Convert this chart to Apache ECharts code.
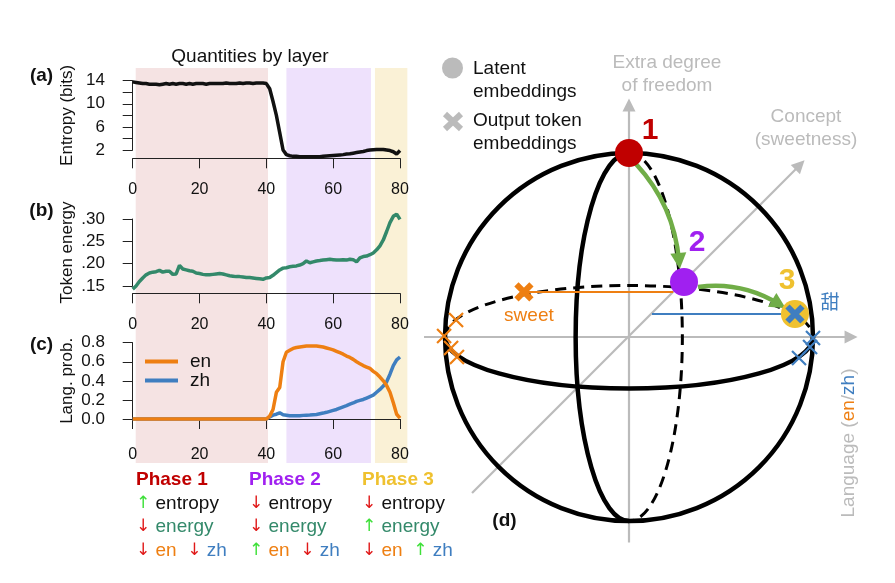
<!DOCTYPE html>
<html><head><meta charset="utf-8">
<script src="https://cdn.jsdelivr.net/npm/echarts@6.0.0/dist/echarts.min.js"></script>
<style>html,body{margin:0;padding:0;background:#fff}#c{width:895px;height:583px}</style>
</head><body><div id="c"></div>
<script>
// ---------------- DATA ----------------
const layerTicks = [0, 20, 40, 60, 80];
const entropyTicks = [2, 6, 10, 14];
const entropy = [
 13.8,13.7,13.6,13.5,13.5,13.4,13.4,13.4,13.3,13.4,
 13.5,13.4,13.5,13.4,13.5,13.5,13.4,13.5,13.4,13.5,
 13.5,13.5,13.4,13.5,13.5,13.5,13.5,13.5,13.6,13.5,
 13.5,13.5,13.6,13.5,13.6,13.6,13.5,13.6,13.6,13.6,
 13.5,12.6,10.4,8.0,5.0,2.0,1.2,1.0,0.9,0.9,
 0.85,0.85,0.85,0.85,0.85,0.85,0.85,0.9,0.95,1.0,
 1.05,1.1,1.15,1.2,1.3,1.35,1.45,1.55,1.65,1.75,
 1.9,2.0,2.05,2.1,2.1,2.1,2.0,1.9,1.7,1.3,
 1.9];
const energy = [
 .143,.150,.160,.168,.175,.179,.181,.182,.185,.181,
 .183,.183,.176,.177,.196,.188,.186,.184,.183,.179,
 .178,.176,.175,.175,.176,.177,.178,.177,.175,.173,
 .172,.171,.171,.170,.169,.169,.168,.167,.166,.165,
 .168,.169,.174,.180,.186,.190,.191,.193,.194,.195,
 .197,.200,.206,.202,.204,.206,.207,.208,.209,.210,
 .209,.208,.208,.209,.208,.210,.209,.204,.213,.216,
 .217,.220,.224,.231,.240,.253,.272,.292,.306,.311,
 .299];
const probEn = [
 0,0,0,0,0,0,0,0,0,0, 0,0,0,0,0,0,0,0,0,0,
 0,0,0,0,0,0,0,0,0,0, 0,0,0,0,0,0,0,0,0,0,
 0,.03,.10,.28,.33,.60,.70,.72,.74,.75,
 .755,.76,.765,.765,.765,.765,.76,.755,.745,.735,
 .725,.71,.695,.68,.66,.645,.625,.60,.58,.56,
 .545,.53,.50,.475,.44,.40,.35,.28,.17,.05,
 .01];
const probZh = [
 0,0,0,0,0,0,0,0,0,0, 0,0,0,0,0,0,0,0,0,0,
 0,0,0,0,0,0,0,0,0,0, 0,0,0,0,0,0,0,0,0,0,
 0,.02,.04,.05,.065,.045,.04,.035,.035,.035,
 .035,.038,.04,.042,.045,.048,.055,.062,.07,.08,
 .09,.10,.115,.128,.14,.155,.168,.185,.195,.205,
 .22,.235,.25,.28,.31,.345,.39,.47,.56,.62,
 .65];
const phaseStart = [0.9, 46, 72.5];
const phaseEnd = [40.5, 71.3, 82.2];
const phaseNames = ['Phase 1', 'Phase 2', 'Phase 3'];
const phaseEntropy = ['up', 'down', 'down'];
const phaseEnergy = ['down', 'down', 'up'];
const phaseEnTrend = ['down', 'up', 'down'];
const phaseZhTrend = ['down', 'down', 'up'];

// sphere diagram (unit sphere coordinates)
const latentX = [0, 0.299, 0.902];
const latentY = [1.0, 0.299, 0.125];
const latentLabels = ['1', '2', '3'];
const tokenBoldX = [-0.571, 0.902];
const tokenBoldY = [0.245, 0.125];
const tokenBoldLabels = ['sweet', '甜'];
const enTokensX = [-0.940, -1.005, -0.967, -0.935];
const enTokensY = [0.092, 0.005, -0.060, -0.109];
const zhTokensX = [1.0, 0.984, 0.924];
const zhTokensY = [-0.005, -0.054, -0.114];
const ellipseRx = [1, 1, 1, 0.29, 0.29];
const ellipseRy = [1, 0.28, 0.28, 1, 1];
const ellipsePart = ['full', 'lower', 'upper', 'left', 'right'];
const ellipseDashed = [false, false, true, false, true];
const axisFrom = [[0, -1.117], [-1.114, 0], [-0.853, -0.848]];
const axisTo = [[0, 1.261], [1.207, 0], [0.929, 0.935]];
const projFrom = [[-0.571, 0.245], [0.125, 0.125]];
const projTo = [[0.24, 0.245], [0.902, 0.125]];
const moveFrom = [[0.038, 0.940], [0.375, 0.272]];
const moveTo = [[0.272, 0.413], [0.815, 0.179]];

// ---------------- STYLE ----------------
const FONT = "'Liberation Sans', Arial, Helvetica, sans-serif";
const C = {
  ink: '#111111', grey: '#BBBBBB', en: '#EE7F12', zh: '#3F7EC0', energy: '#33896A',
  up: '#3FE03A', down: '#E01818', arrow: '#70AD47',
  p1: '#C00000', p2: '#A020F0', p3: '#EFC12F',
  band: ['#F5E3E3', '#EEE1FC', '#FAF1D6']
};
const latentColors = [C.p1, C.p2, C.p3];
const latentLabelOffset = [[21, -22], [13, -39], [-8, -33]];
const boldColors = [C.en, C.zh];
const boldLabelOffset = [[5, 24], [35, -12]];
const XPATH = 'path://M0,0L10,10M10,0L0,10';

const X0 = 132.7, XW = 267.3;
const gridsPx = [
  {left: X0, top: 80.7, width: XW, height: 69.3},
  {left: X0, top: 219, width: XW, height: 67},
  {left: X0, top: 342.7, width: XW, height: 76.3},
  {left: X0, top: 68, width: XW, height: 395},
  {left: 445, top: 153, width: 368, height: 368}
];
const xOffsets = [8.3, 7.3, 4.3];

function visXAxis(i) {
  return {
    gridIndex: i, type: 'value', min: 0, max: 80, interval: 20, offset: xOffsets[i],
    axisLine: {show: true, lineStyle: {color: '#222', width: 1}},
    axisTick: {show: true, length: 10, lineStyle: {color: '#222', width: 1}},
    axisLabel: {show: true, margin: 23, fontSize: 16, color: C.ink, fontFamily: FONT,
      formatter: v => layerTicks.includes(v) ? String(v) : ''},
    splitLine: {show: false}
  };
}
function visYAxis(i, min, max, interval, name, fmt) {
  return {
    gridIndex: i, type: 'value', min, max, interval, offset: 7.7,
    axisLine: {show: true, lineStyle: {color: '#222', width: 1}},
    axisTick: {show: true, length: 10, lineStyle: {color: '#222', width: 1}},
    axisLabel: {show: true, margin: 20, fontSize: 17, color: C.ink, fontFamily: FONT, formatter: fmt},
    splitLine: {show: false},
    name, nameLocation: 'middle', nameGap: 49, nameRotate: 90,
    nameTextStyle: {fontSize: 17, color: C.ink, fontFamily: FONT}
  };
}
const hidden = (i, min, max) => ({gridIndex: i, type: 'value', min, max, show: false, splitLine: {show: false}});

function arcItem(params, api) {
  const i = params.dataIndex;
  const c = api.coord([0, 0]);
  const s = api.size([ellipseRx[i], ellipseRy[i]]);
  const rx = s[0], ry = s[1], x = c[0], y = c[1];
  const style = {fill: 'none', stroke: '#000', lineWidth: ellipseDashed[i] ? 3 : 4.5,
    lineDash: ellipseDashed[i] ? [11, 7] : null};
  if (ellipsePart[i] === 'full') return {type: 'circle', shape: {cx: x, cy: y, r: rx}, style};
  let d;
  if (ellipsePart[i] === 'upper') d = `M${x - rx},${y}A${rx},${ry} 0 0 1 ${x + rx},${y}`;
  if (ellipsePart[i] === 'lower') d = `M${x - rx},${y}A${rx},${ry} 0 0 0 ${x + rx},${y}`;
  if (ellipsePart[i] === 'left') d = `M${x},${y - ry}A${rx},${ry} 0 0 0 ${x},${y + ry}`;
  if (ellipsePart[i] === 'right') d = `M${x},${y - ry}A${rx},${ry} 0 0 1 ${x},${y + ry}`;
  return {type: 'path', shape: {pathData: d}, style};
}

// phase text
const arrowTxt = t => t === 'up' ? '{u|↑}' : '{d|↓}';
const rs = (fill, extra) => Object.assign({fill, fontSize: 19, fontFamily: FONT}, extra || {});
const ARROWFONT = "'DejaVu Sans', sans-serif";
const rich = {
  u: rs(C.up, {fontFamily: ARROWFONT, fontSize: 17}),
  d: rs(C.down, {fontFamily: ARROWFONT, fontSize: 17}),
  k: rs(C.ink), g: rs(C.energy), o: rs(C.en), b: rs(C.zh), l: rs(C.grey)
};
const phaseX = [136, 249, 362];
const rowY = [480, 503.5, 527, 550.5];
const graphics = [];
const txt = (x, y, text, extra) => graphics.push({type: 'text', x, y, z: 100,
  style: Object.assign({text, font: `19px ${FONT}`, fill: C.ink, textAlign: 'left', textVerticalAlign: 'middle'}, extra || {})});
phaseNames.forEach((n, i) => {
  txt(phaseX[i], rowY[0], n, {font: `bold 19px ${FONT}`, fill: latentColors[i]});
  txt(phaseX[i], rowY[1], arrowTxt(phaseEntropy[i]) + ' {k|entropy}', {rich});
  txt(phaseX[i], rowY[2], arrowTxt(phaseEnergy[i]) + ' {g|energy}', {rich});
  txt(phaseX[i], rowY[3], arrowTxt(phaseEnTrend[i]) + ' {o|en}  ' + arrowTxt(phaseZhTrend[i]) + ' {b|zh}', {rich});
});
txt(250, 57, 'Quantities by layer', {textAlign: 'center'});
txt(41.5, 76, '(a)', {textAlign: 'center', font: `bold 19px ${FONT}`});
txt(41.5, 211, '(b)', {textAlign: 'center', font: `bold 19px ${FONT}`});
txt(41.5, 345, '(c)', {textAlign: 'center', font: `bold 19px ${FONT}`});
txt(504.5, 521, '(d)', {textAlign: 'center', font: `bold 19px ${FONT}`});
// sphere legend
graphics.push({type: 'circle', shape: {cx: 452.5, cy: 68, r: 10.5}, style: {fill: C.grey}});
graphics.push({type: 'line', shape: {x1: 445, y1: 114, x2: 461, y2: 129}, style: {stroke: C.grey, lineWidth: 6}});
graphics.push({type: 'line', shape: {x1: 461, y1: 114, x2: 445, y2: 129}, style: {stroke: C.grey, lineWidth: 6}});
txt(473, 69, 'Latent'); txt(473, 92, 'embeddings');
txt(473, 121, 'Output token'); txt(473, 144, 'embeddings');
txt(667, 74.5, 'Extra degree\nof freedom', {textAlign: 'center', fill: C.grey, lineHeight: 23});
txt(806, 128.5, 'Concept\n(sweetness)', {textAlign: 'center', fill: C.grey, lineHeight: 23});
graphics.push({type: 'text', x: 849, y: 443, rotation: Math.PI / 2, z: 100,
  style: {text: '{l|Language (}{o|en}{l|/}{b|zh}{l|)}', textAlign: 'center', textVerticalAlign: 'middle',
    fill: C.grey, rich: {l: rich.l, o: rich.o, b: rich.b}}});

const option = {
  animation: false,
  backgroundColor: '#fff',
  grid: gridsPx.map(g => Object.assign({outerBoundsMode: 'none', containLabel: false}, g)),
  xAxis: [visXAxis(0), visXAxis(1), visXAxis(2), hidden(3, 0, 80), hidden(4, -1, 1)],
  yAxis: [
    visYAxis(0, 2, 14, 2, 'Entropy (bits)', v => entropyTicks.includes(v) ? String(v) : ''),
    visYAxis(1, 0.15, 0.30, 0.05, 'Token energy', v => v.toFixed(2).replace(/^0/, '')),
    visYAxis(2, 0, 0.8, 0.2, 'Lang. prob.', v => v.toFixed(1)),
    hidden(3, 0, 1), hidden(4, -1, 1)
  ],
  legend: {
    data: ['en', 'zh'], orient: 'vertical', left: 140, top: 347, icon: 'rect',
    itemWidth: 33, itemHeight: 4, itemGap: 0, selectedMode: false,
    textStyle: {fontSize: 19, color: C.ink, fontFamily: FONT, padding: [0, 0, 0, 7], lineHeight: 19}
  },
  graphic: graphics,
  series: [
    {type: 'custom', xAxisIndex: 3, yAxisIndex: 3, silent: true, z: 0,
      data: phaseStart.map((s, i) => [s, phaseEnd[i], i]),
      renderItem: (p, api) => {
        const a = api.coord([api.value(0), 1]), b = api.coord([api.value(1), 0]);
        return {type: 'rect', shape: {x: a[0], y: a[1], width: b[0] - a[0], height: b[1] - a[1]},
          style: {fill: C.band[api.value(2)]}};
      }},
    {type: 'line', name: 'entropy', xAxisIndex: 0, yAxisIndex: 0, clip: false, showSymbol: false, symbol: 'none',
      data: entropy.map((v, i) => [i, v]), lineStyle: {color: C.ink, width: 3.5}, z: 3},
    {type: 'line', name: 'energy', xAxisIndex: 1, yAxisIndex: 1, clip: false, showSymbol: false, symbol: 'none',
      data: energy.map((v, i) => [i, v]), lineStyle: {color: C.energy, width: 3.5}, z: 3},
    {type: 'line', name: 'zh', xAxisIndex: 2, yAxisIndex: 2, clip: false, showSymbol: false, symbol: 'none',
      data: probZh.map((v, i) => [i, v]), itemStyle: {color: C.zh}, lineStyle: {color: C.zh, width: 3.5}, z: 3},
    {type: 'line', name: 'en', xAxisIndex: 2, yAxisIndex: 2, clip: false, showSymbol: false, symbol: 'none',
      data: probEn.map((v, i) => [i, v]), itemStyle: {color: C.en}, lineStyle: {color: C.en, width: 3.5}, z: 4},
    // sphere
    {type: 'lines', coordinateSystem: 'cartesian2d', xAxisIndex: 4, yAxisIndex: 4, z: 2, silent: true, clip: false,
      data: axisFrom.map((f, i) => ({coords: [f, axisTo[i]]})),
      symbol: ['none', 'triangle'], symbolSize: 13, itemStyle: {color: C.grey},
      lineStyle: {color: C.grey, width: 2.2, opacity: 1}},
    {type: 'custom', xAxisIndex: 4, yAxisIndex: 4, silent: true, z: 3, clip: false,
      data: ellipsePart.map(() => [0, 0]), renderItem: arcItem},
    {type: 'lines', coordinateSystem: 'cartesian2d', xAxisIndex: 4, yAxisIndex: 4, z: 4, silent: true, clip: false,
      data: projFrom.map((f, i) => ({coords: [f, projTo[i]], lineStyle: {color: boldColors[i]}})),
      symbol: 'none', lineStyle: {width: 2, opacity: 1}},
    {type: 'scatter', xAxisIndex: 4, yAxisIndex: 4, clip: false, z: 5, silent: true,
      data: enTokensX.map((x, i) => [x, enTokensY[i]]), symbol: XPATH, symbolSize: 14,
      itemStyle: {color: C.en, borderColor: C.en, borderWidth: 2.2, opacity: 1}},
    {type: 'scatter', xAxisIndex: 4, yAxisIndex: 4, clip: false, z: 5, silent: true,
      data: zhTokensX.map((x, i) => [x, zhTokensY[i]]), symbol: XPATH, symbolSize: 14,
      itemStyle: {color: C.zh, borderColor: C.zh, borderWidth: 2.2, opacity: 1}},
    {type: 'lines', coordinateSystem: 'cartesian2d', xAxisIndex: 4, yAxisIndex: 4, z: 6, silent: true, clip: false,
      data: [
        {coords: [moveFrom[0], moveTo[0]], lineStyle: {curveness: 0.17}},
        {coords: [moveFrom[1], moveTo[1]], lineStyle: {curveness: 0.18}}
      ],
      symbol: ['none', 'triangle'], symbolSize: 16, itemStyle: {color: C.arrow},
      lineStyle: {color: C.arrow, width: 4.5, opacity: 1}},
    {type: 'scatter', xAxisIndex: 4, yAxisIndex: 4, clip: false, z: 7, silent: true,
      symbol: 'circle', symbolSize: 28,
      data: latentX.map((x, i) => ({value: [x, latentY[i]], itemStyle: {color: latentColors[i], opacity: 1},
        label: {show: true, position: 'inside', offset: latentLabelOffset[i], formatter: latentLabels[i],
          color: latentColors[i], fontSize: 30, fontWeight: 'bold', fontFamily: FONT}}))},
    {type: 'scatter', xAxisIndex: 4, yAxisIndex: 4, clip: false, z: 8, silent: true,
      symbol: XPATH, symbolSize: 15,
      data: tokenBoldX.map((x, i) => ({value: [x, tokenBoldY[i]],
        itemStyle: {color: boldColors[i], borderColor: boldColors[i], borderWidth: 6, opacity: 1},
        label: {show: true, position: 'inside', offset: boldLabelOffset[i], formatter: tokenBoldLabels[i],
          color: boldColors[i], fontSize: 19, fontFamily: i === 1 ? "'Noto Sans CJK SC', sans-serif" : FONT}}))}
  ]
};
const chart = echarts.init(document.getElementById('c'), null, {renderer: 'canvas'});
chart.setOption(option);
</script></body></html>
